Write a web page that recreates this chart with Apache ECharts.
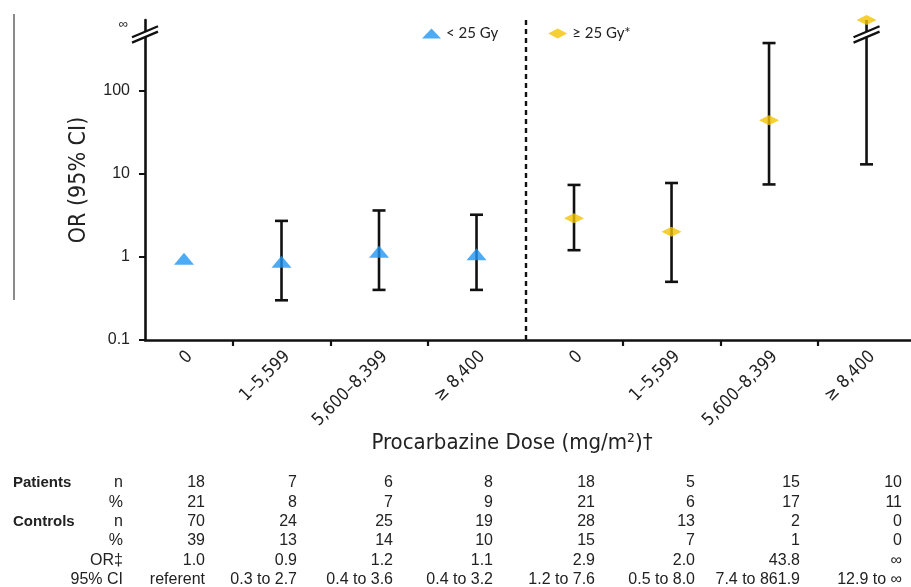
<!DOCTYPE html>
<html><head><meta charset="utf-8">
<script src="https://cdn.jsdelivr.net/npm/echarts@6/dist/echarts.min.js"></script>
<style>html,body{margin:0;padding:0;background:#fff}#c{width:911px;height:587px}</style>
</head><body><div id="c"></div>
<script>
// ---------- data ----------
const categories = ['0', '1–5,599', '5,600–8,399', '≥ 8,400', '0', '1–5,599', '5,600–8,399', '≥ 8,400'];
const INF = 700; // top of the axis stands for ∞
const BREAK_VAL = 470; // where the axis break is drawn
const lowName = '< 25 Gy';
const highName = '≥ 25 Gy*';
const lowOR = [0.95, 0.87, 1.15, 1.07];
const lowCILow = [null, 0.3, 0.4, 0.4];
const lowCIHigh = [null, 2.7, 3.6, 3.2];
const highOR = [2.9, 2.0, 43.8, INF];
const highCILow = [1.2, 0.5, 7.4, 12.9];
const highCIHigh = [7.3, 7.7, 370, INF];
const yTickValues = [0.1, 1, 10, 100];
const yTickLabels = ['0.1', '1', '10', '100'];

const rowGroup = ['Patients', '', 'Controls', '', '', ''];
const rowSub = ['n', '%', 'n', '%', 'OR‡', '95% CI'];
const patientsN = [18, 7, 6, 8, 18, 5, 15, 10];
const patientsPct = [21, 8, 7, 9, 21, 6, 17, 11];
const controlsN = [70, 24, 25, 19, 28, 13, 2, 0];
const controlsPct = [39, 13, 14, 10, 15, 7, 1, 0];
const orText = ['1.0', '0.9', '1.2', '1.1', '2.9', '2.0', '43.8', '∞'];
const ciText = ['referent', '0.3 to 2.7', '0.4 to 3.6', '0.4 to 3.2', '1.2 to 7.6', '0.5 to 8.0', '7.4 to 861.9', '12.9 to ∞'];

// ---------- layout ----------
const X_MIN = -0.4, X_MAX = 7.456;
const BLUE = '#2196f3', YELLOW = '#f3c300', INK = '#111';
const colRight = [205, 297, 393, 493, 595, 695, 800, 902];
const tableTop = 483, rowStep = 19.3;
const condensed = '"DejaVu Sans Condensed", "Liberation Sans Narrow", sans-serif';
const sans = '"Liberation Sans", Arial, sans-serif';

const lowPts = lowOR.map((v, i) => [i, v]);
const highPts = highOR.map((v, i) => [i + 4, v]);
const errData = [];
lowOR.forEach((v, i) => { if (lowCILow[i] != null) errData.push([i, lowCILow[i], lowCIHigh[i]]); });
highOR.forEach((v, i) => { errData.push([i + 4, highCILow[i], highCIHigh[i]]); });
const breakData = [[X_MIN, BREAK_VAL], [7, BREAK_VAL]];

function renderErr(params, api) {
  const x = api.value(0), lo = api.value(1), hi = api.value(2);
  const a = api.coord([x, lo]), b = api.coord([x, hi]);
  const cw = 6.5;
  const st = { stroke: INK, lineWidth: 2.6 };
  const ch = [
    { type: 'line', shape: { x1: a[0], y1: a[1], x2: b[0], y2: b[1] }, style: st },
    { type: 'line', shape: { x1: a[0] - cw, y1: a[1], x2: a[0] + cw, y2: a[1] }, style: st }
  ];
  if (hi < INF) ch.push({ type: 'line', shape: { x1: b[0] - cw, y1: b[1], x2: b[0] + cw, y2: b[1] }, style: st });
  return { type: 'group', children: ch };
}
function renderBreak(params, api) {
  const p = api.coord([api.value(0), api.value(1)]);
  const cx = p[0], cy = p[1], hw = 13, rise = 5.5, d = 2.7;
  const st = { stroke: INK, lineWidth: 2.3 };
  return { type: 'group', children: [
    { type: 'polygon', shape: { points: [[cx - hw, cy + rise - d], [cx + hw, cy - rise - d], [cx + hw, cy - rise + d], [cx - hw, cy + rise + d]] }, style: { fill: '#fff' } },
    { type: 'line', shape: { x1: cx - hw, y1: cy + rise - d, x2: cx + hw, y2: cy - rise - d }, style: st },
    { type: 'line', shape: { x1: cx - hw, y1: cy + rise + d, x2: cx + hw, y2: cy - rise + d }, style: st }
  ] };
}

// table graphics
const tableRows = [patientsN, patientsPct, controlsN, controlsPct, orText, ciText];
const graphics = [];
graphics.push({ type: 'line', shape: { x1: 14, y1: 14, x2: 14, y2: 300 }, style: { stroke: '#8a8a8a', lineWidth: 2 } });
graphics.push({ type: 'text', x: 512, y: 443, style: { text: 'Procarbazine Dose (mg/m²)†', font: '22px ' + condensed, fill: '#222', align: 'center', verticalAlign: 'middle' } });
tableRows.forEach((row, r) => {
  const y = tableTop + r * rowStep;
  if (rowGroup[r]) graphics.push({ type: 'text', x: 13, y: y, style: { text: rowGroup[r], font: 'bold 15px ' + sans, fill: '#222', align: 'left', verticalAlign: 'middle' } });
  graphics.push({ type: 'text', x: 123, y: y, style: { text: rowSub[r], font: '16px ' + sans, fill: '#222', align: 'right', verticalAlign: 'middle' } });
  row.forEach((v, c) => {
    graphics.push({ type: 'text', x: colRight[c], y: y, style: { text: String(v), font: '16px ' + sans, fill: '#222', align: 'right', verticalAlign: 'middle' } });
  });
});

const chart = echarts.init(document.getElementById('c'), null, { renderer: 'canvas' });
chart.setOption({
  animation: false,
  backgroundColor: '#fff',
  grid: { left: 145, right: 0, top: 20, bottom: 247, containLabel: false },
  legend: {
    left: 417, top: 21, itemWidth: 19, itemHeight: 10, itemGap: 50,
    textStyle: { fontFamily: 'Lato, sans-serif', fontSize: 15, color: '#222' },
    data: [{ name: lowName, icon: 'triangle' }, { name: highName, icon: 'diamond' }]
  },
  xAxis: {
    type: 'value', min: X_MIN, max: X_MAX,
    splitLine: { show: false },
    axisLine: { show: true, onZero: false, lineStyle: { color: INK, width: 2.6 } },
    axisTick: { show: true, length: 6, lineStyle: { color: INK, width: 2.2 }, customValues: [0.5, 1.5, 2.5, 4.5, 5.5, 6.5] },
    axisLabel: {
      customValues: [0.06, 1.06, 2.06, 3.06, 4.06, 5.06, 6.06, 7.06], rotate: 45, margin: 14,
      formatter: v => categories[Math.round(v)],
      fontFamily: condensed, fontSize: 17.5, color: '#222'
    }
  },
  yAxis: {
    type: 'log', logBase: 10, min: 0.1, max: INF,
    name: 'OR (95% CI)', nameLocation: 'middle', nameGap: 54, nameRotate: 90,
    nameTextStyle: { fontFamily: condensed, fontSize: 23, color: '#222' },
    splitLine: { show: false },
    axisLine: { show: true, onZero: false, lineStyle: { color: INK, width: 2.6 } },
    axisTick: { show: true, length: 6, lineStyle: { color: INK, width: 2 }, customValues: yTickValues },
    axisLabel: {
      customValues: yTickValues.concat([INF]), margin: 15,
      formatter: v => {
        if (v >= INF * 0.99) return '{inf|∞}';
        const k = yTickValues.findIndex(t => Math.abs(t - v) / t < 1e-6);
        return k >= 0 ? yTickLabels[k] : '';
      },
      fontFamily: sans, fontSize: 16, color: '#222',
      rich: { inf: { fontSize: 13, padding: [8, 2, 0, 0], fontFamily: sans, color: '#222' } }
    }
  },
  series: [
    { type: 'custom', name: 'ci', renderItem: renderErr, data: errData, z: 3, silent: true,
      markLine: { silent: true, symbol: 'none', label: { show: false },
        lineStyle: { type: [5, 4], color: INK, width: 2.4 }, data: [{ xAxis: 3.5 }] } },
    { type: 'custom', name: 'break', renderItem: renderBreak, data: breakData, z: 4, silent: true, clip: false },
    { type: 'scatter', name: lowName, data: lowPts, symbol: 'triangle', symbolSize: [20, 12], itemStyle: { color: BLUE }, z: 5, clip: false },
    { type: 'scatter', name: highName, data: highPts, symbol: 'diamond', symbolSize: [20, 10], itemStyle: { color: YELLOW }, z: 5, clip: false }
  ],
  graphic: graphics
});
</script></body></html>
